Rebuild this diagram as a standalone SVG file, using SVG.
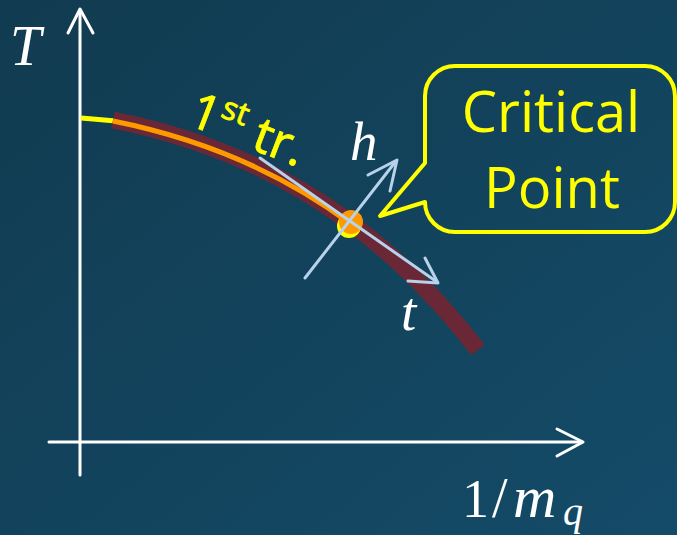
<svg xmlns="http://www.w3.org/2000/svg" width="677" height="535" viewBox="0 0 677 535">
  <defs>
    <linearGradient id="bg" x1="0" y1="0" x2="1" y2="1">
      <stop offset="0" stop-color="#113b50"/>
      <stop offset="1" stop-color="#144b68"/>
    </linearGradient>
  </defs>
  <style>
    .axis { stroke: #ffffff; stroke-width: 3; fill: none; stroke-linecap: round; stroke-linejoin: round; }
    .vec { stroke: #b7d2ea; stroke-width: 3; fill: none; stroke-linecap: round; stroke-linejoin: round; }
    .math { font-family: "Liberation Serif", "DejaVu Serif", serif; font-style: italic; fill: #ffffff; }
    .upright { font-style: normal; }
    .yel { font-family: "Open Sans", "Liberation Sans", sans-serif; fill: #ffff00; }
  </style>
  <rect x="0" y="0" width="677" height="535" fill="url(#bg)"/>

  <g id="connectors">
    <!-- vertical axis -->
    <line class="axis" x1="80" y1="475" x2="80" y2="10"/>
    <polyline class="axis" points="68,33 80,9 93,33"/>
    <!-- horizontal axis -->
    <line class="axis" x1="49" y1="442" x2="582" y2="442"/>
    <polyline class="axis" points="557,429 583,442 557,456"/>
  </g>

  <g id="curve">
    <line x1="81" y1="118" x2="116" y2="121" stroke="#ffff00" stroke-width="5"/>
    <path d="M113,120 C243,146 368,207 478,350" fill="none" stroke="#6a2836" stroke-width="17"/>
    <path d="M113,121 C194.9,137.4 274.8,167.6 350.2,223.5" fill="none" stroke="#ff9900" stroke-width="5"/>
  </g>

  <g id="critical-point">
    <circle cx="349" cy="226" r="12" fill="#ffff00"/>
    <circle cx="351" cy="222" r="12" fill="#ff9900"/>
  </g>

  <g id="vectors">
    <line class="vec" x1="260" y1="158" x2="437" y2="282"/>
    <polyline class="vec" points="425,258 438,283 408,281"/>
    <line class="vec" x1="305" y1="278" x2="396" y2="161"/>
    <polyline class="vec" points="368,175 397,160 390,191"/>
  </g>

  <g id="bubble">
    <path d="M455,66 H645 A30,30 0 0 1 675,96 V202 A30,30 0 0 1 645,232 H455 A30,30 0 0 1 425,202 L380,216 L425,163 V96 A30,30 0 0 1 455,66 Z" fill="none" stroke="#ffff00" stroke-width="4" stroke-linejoin="round"/>
    <text class="yel" x="551" y="132" font-size="56" text-anchor="middle">Critical</text>
    <text class="yel" x="552" y="208" font-size="56" text-anchor="middle">Point</text>
  </g>

  <g id="labels">
    <text class="math" x="10" y="65" font-size="56">T</text>
    <text class="math" x="350" y="160" font-size="55">h</text>
    <text class="math" x="401" y="330" font-size="55">t</text>
    <text class="math upright" x="462" y="517" font-size="54">1</text>
    <text class="math upright" x="492" y="517" font-size="56">/</text>
    <text class="math" x="513" y="517" font-size="60">m</text>
    <text class="math" x="563" y="525" font-size="40">q</text>
    <text class="yel" transform="translate(186,124) rotate(21)" font-size="50" stroke="#ffff00" stroke-width="0.8">1<tspan font-size="32" dy="-19">st</tspan><tspan dy="19"> tr.</tspan></text>
  </g>
</svg>
